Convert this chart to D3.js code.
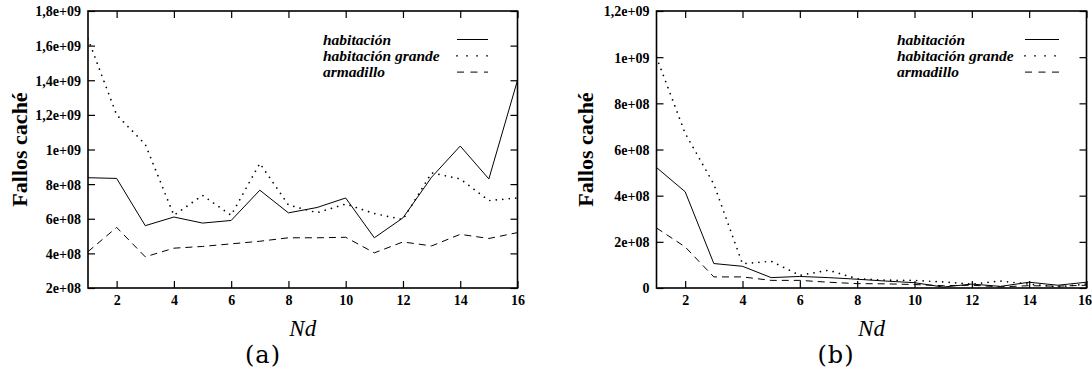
<!DOCTYPE html>
<html><head><meta charset="utf-8">
<script src="https://cdn.jsdelivr.net/npm/d3@7"></script>
<style>
body{margin:0;background:#fff;}
svg{display:block;}
svg text{font-family:"Liberation Serif","Times New Roman",serif;}
</style></head>
<body><svg id="c" width="1092" height="378"></svg>
<script>
const nd = [1,2,3,4,5,6,7,8,9,10,11,12,13,14,15,16];
const seriesNames = ["habitación","habitación grande","armadillo"];
// Chart (a)
const aHab = [8.37e8,8.33e8,5.6e8,6.1e8,5.75e8,5.9e8,7.65e8,6.34e8,6.65e8,7.2e8,4.9e8,6.05e8,8.4e8,1.02e9,8.3e8,1.4e9];
const aHabG = [1.64e9,1.2e9,1.03e9,6.2e8,7.35e8,6.2e8,9.2e8,6.8e8,6.35e8,6.85e8,6.3e8,5.95e8,8.65e8,8.3e8,7.05e8,7.2e8];
const aArm = [4.1e8,5.5e8,3.8e8,4.3e8,4.4e8,4.55e8,4.7e8,4.9e8,4.9e8,4.93e8,4.03e8,4.66e8,4.43e8,5.1e8,4.86e8,5.2e8];
const aYTicks = [2e8,4e8,6e8,8e8,1e9,1.2e9,1.4e9,1.6e9,1.8e9];
const aYLabels = ["2e+08","4e+08","6e+08","8e+08","1e+09","1,2e+09","1,4e+09","1,6e+09","1,8e+09"];
// Chart (b)
const bHab = [5.22e8,4.17e8,1.06e8,0.94e8,0.45e8,0.5e8,0.45e8,0.38e8,0.3e8,0.23e8,0.04e8,0.17e8,0.07e8,0.25e8,0.12e8,0.25e8];
const bHabG = [1.0e9,6.7e8,4.5e8,1.05e8,1.16e8,0.55e8,0.77e8,0.4e8,0.34e8,0.33e8,0.26e8,0.17e8,0.3e8,0.17e8,0.05e8,0.17e8];
const bArm = [2.6e8,1.78e8,0.48e8,0.48e8,0.33e8,0.33e8,0.25e8,0.19e8,0.18e8,0.15e8,0.1e8,0.12e8,0.05e8,0.1e8,0.08e8,0.12e8];
const bYTicks = [0,2e8,4e8,6e8,8e8,1e9,1.2e9];
const bYLabels = ["0","2e+08","4e+08","6e+08","8e+08","1e+09","1,2e+09"];
const xTicks = [2,4,6,8,10,12,14,16];
const yTitle = "Fallos caché";
const xTitle = "Nd";

const SERIF = '"Liberation Serif","Times New Roman",serif';
const svg = d3.select("#c");
const styles = [
  {dash:null, cap:"butt", w:1},
  {dash:"0.01,6.5", cap:"round", w:1.7},
  {dash:"7,5", cap:"butt", w:1}
];
const legendStyles = [
  {dash:null, cap:"butt", w:1},
  {dash:"0.01,10", cap:"round", w:1.7},
  {dash:"7,6.5", cap:"butt", w:1}
];

function chart(id, left, right, yDomain, yTicks, yLabels, data, legX, legLineX, caption, titleOff){
  const top = 11, bottom = 288;
  const x = d3.scaleLinear().domain([1,16]).range([left,right]);
  const y = d3.scaleLinear().domain(yDomain).range([bottom,top]);
  const g = svg.append("g");
  g.append("clipPath").attr("id","clip"+id).append("rect")
    .attr("x",left).attr("y",top).attr("width",right-left).attr("height",bottom-top);
  const ax = g.append("g").attr("transform",`translate(0,${bottom})`)
    .call(d3.axisBottom(x).tickValues(xTicks).tickSize(-7).tickPadding(7).tickFormat(d3.format("d")));
  const axT = g.append("g").attr("transform",`translate(0,${top})`)
    .call(d3.axisTop(x).tickValues(xTicks).tickSize(-7).tickFormat(""));
  const ay = g.append("g").attr("transform",`translate(${left},0)`)
    .call(d3.axisLeft(y).tickValues(yTicks).tickSize(-7).tickPadding(7).tickFormat((d,i)=>yLabels[i]));
  const ayR = g.append("g").attr("transform",`translate(${right},0)`)
    .call(d3.axisRight(y).tickValues(yTicks).tickSize(-7).tickFormat(""));
  [ax,axT,ay,ayR].forEach(a=>{
    a.attr("font-family",null).attr("font-size",null);
    a.select(".domain").remove();
    a.selectAll(".tick line").attr("stroke","#000").attr("stroke-width",1.2);
  });
  ax.selectAll(".tick text").style("font-family",SERIF).style("font-weight","bold").style("font-size","14px").attr("fill","#000")
    .attr("dx",d=>(d===16 && right>1080) ? "-2px" : null);
  ay.selectAll(".tick text").style("font-family",SERIF).style("font-weight","bold").style("font-size","14px").attr("fill","#000").attr("dy","0.35em");
  g.append("rect").attr("x",left).attr("y",top).attr("width",right-left).attr("height",bottom-top)
    .attr("fill","none").attr("stroke","#000").attr("stroke-width",1.6);
  const line = d3.line().x((d,i)=>x(nd[i])).y(d=>y(d));
  data.forEach((s,k)=>{
    g.append("path").attr("clip-path",`url(#clip${id})`).attr("d",line(s))
      .attr("fill","none").attr("stroke","#000").attr("stroke-width",styles[k].w)
      .attr("stroke-dasharray",styles[k].dash).attr("stroke-linecap",styles[k].cap);
  });
  seriesNames.forEach((n,k)=>{
    const yy = 39.5 + k*16.3;
    g.append("text").attr("x",legX).attr("y",yy).attr("dy","0.33em")
      .style("font-family",SERIF).style("font-weight","bold").style("font-style","italic")
      .style("font-size","15.5px").text(n);
    g.append("line").attr("x1",legLineX[0]).attr("x2",legLineX[1]).attr("y1",yy).attr("y2",yy)
      .attr("stroke","#000").attr("stroke-width",legendStyles[k].w)
      .attr("stroke-dasharray",legendStyles[k].dash).attr("stroke-linecap",legendStyles[k].cap);
  });
  g.append("text").attr("transform",`translate(${left-titleOff},${(top+bottom)/2}) rotate(-90)`)
    .attr("text-anchor","middle").attr("dy","0.35em")
    .style("font-family",SERIF).style("font-weight","bold").style("font-size","22px").text(yTitle);
  g.append("text").attr("x",(left+right)/2).attr("y",336)
    .attr("text-anchor","middle").style("font-family",SERIF)
    .style("font-style","italic").style("font-size","23px").text(xTitle);
  g.append("text").attr("x",caption).attr("y",363)
    .attr("text-anchor","middle").style("font-family",'"DejaVu Serif",serif')
    .style("font-size","24px").style("letter-spacing","1px").text(id==="a"?"(a)":"(b)");
}

chart("a", 88, 517.5, [2e8,1.8e9], aYTicks, aYLabels, [aHab,aHabG,aArm], 323, [457,488], 263, 68.5);
chart("b", 656.5, 1086.5, [0,1.2e9], bYTicks, bYLabels, [bHab,bHabG,bArm], 897, [1025,1059], 836, 71);
</script></body></html>
